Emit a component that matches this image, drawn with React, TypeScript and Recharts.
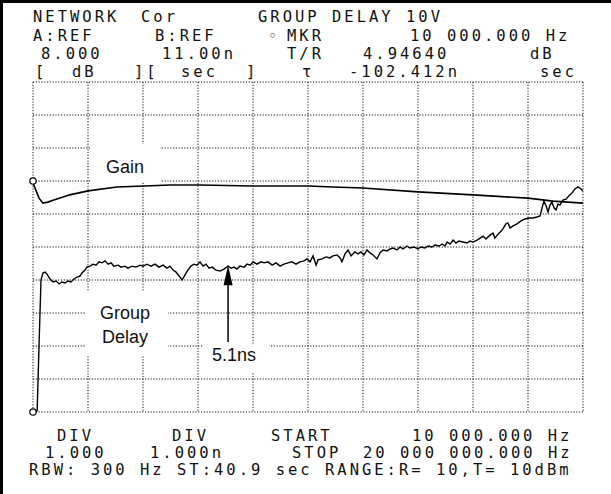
import { ComposedChart, Line, XAxis, YAxis, CartesianGrid, ReferenceDot, ReferenceLine } from 'recharts'

// sweep: 10 kHz .. 20 MHz, linear, 10 divisions
const START_MHZ = 0.01
const STOP_MHZ = 20
const freqTicks = [0.01, 2.009, 4.008, 6.007, 8.006, 10.005, 12.004, 14.003, 16.002, 18.001, 20]

// gain: 1 dB/div, ref 8.000 dB at 7th div; group delay: 1 ns/div, ref 11.00 ns at bottom
const GAIN_REF = 8
const DELAY_REF = 11
const gainTicks = [1, 2, 3, 4, 5, 6, 7, 8, 9, 10, 11]
const delayTicks = [11, 12, 13, 14, 15, 16, 17, 18, 19, 20, 21]

const gainMHz = [0.01, 0.23, 0.37, 0.55, 0.74, 1.35, 2.01, 3.06, 4.04, 4.99, 6.08, 8.01, 10.04, 10.91, 12.0, 14.0, 16.0, 18.0, 18.91, 20.0]
const gainDb = [7.94, 7.48, 7.33, 7.36, 7.42, 7.58, 7.7, 7.82, 7.85, 7.88, 7.88, 7.85, 7.85, 7.82, 7.79, 7.67, 7.58, 7.48, 7.39, 7.33]

const delayMHz = [
  0.01, 0.16, 0.23, 0.3, 0.37, 0.45, 0.52, 0.63, 0.74, 0.85, 0.96, 1.06, 1.17, 1.28, 1.39, 1.5, 1.61, 1.72, 1.79, 1.9,
  1.97, 2.08, 2.19, 2.3, 2.41, 2.52, 2.63, 2.74, 2.85, 2.95, 3.1, 3.21, 3.35, 3.46, 3.61, 3.75, 3.9, 4.01, 4.15, 4.3,
  4.44, 4.59, 4.74, 4.88, 4.99, 5.1, 5.21, 5.32, 5.43, 5.53, 5.64, 5.75, 5.86, 5.97, 6.08, 6.19, 6.3, 6.41, 6.52, 6.66,
  6.81, 6.95, 7.1, 7.21, 7.32, 7.42, 7.53, 7.68, 7.79, 7.9, 8.01, 8.15, 8.3, 8.41, 8.55, 8.7, 8.84, 8.99, 9.13, 9.28,
  9.42, 9.57, 9.71, 9.86, 9.97, 10.08, 10.19, 10.3, 10.37, 10.51, 10.66, 10.8, 10.91, 11.06, 11.17, 11.24, 11.35, 11.46, 11.57, 11.71,
  11.82, 11.93, 12.04, 12.15, 12.26, 12.37, 12.51, 12.62, 12.73, 12.88, 12.99, 13.09, 13.24, 13.35, 13.46, 13.6, 13.71, 13.86, 14.0, 14.11,
  14.26, 14.37, 14.51, 14.62, 14.77, 14.88, 14.98, 15.06, 15.17, 15.28, 15.38, 15.49, 15.64, 15.78, 15.89, 16.0, 16.15, 16.26, 16.37, 16.47,
  16.62, 16.73, 16.8, 16.91, 17.02, 17.09, 17.2, 17.27, 17.35, 17.46, 17.6, 17.75, 17.89, 18.04, 18.18, 18.33, 18.44, 18.51, 18.58, 18.66,
  18.73, 18.8, 18.87, 18.95, 19.02, 19.09, 19.16, 19.27, 19.38, 19.49, 19.6, 19.71, 19.82, 19.93, 20.0,
]
const delayNs = [
  11.0, 11.03, 13.03, 15.0, 15.21, 15.24, 15.18, 15.03, 14.94, 14.97, 14.88, 14.94, 14.91, 14.97, 14.94, 15.03, 15.09, 15.12, 15.21, 15.3,
  15.39, 15.42, 15.48, 15.45, 15.55, 15.52, 15.58, 15.48, 15.52, 15.42, 15.45, 15.39, 15.42, 15.36, 15.42, 15.39, 15.45, 15.42, 15.48, 15.42,
  15.48, 15.39, 15.45, 15.36, 15.42, 15.3, 15.24, 15.12, 15.0, 15.15, 15.3, 15.42, 15.48, 15.45, 15.55, 15.42, 15.48, 15.36, 15.39, 15.3,
  15.27, 15.33, 15.42, 15.36, 15.39, 15.33, 15.42, 15.39, 15.48, 15.45, 15.55, 15.48, 15.55, 15.52, 15.55, 15.45, 15.52, 15.42, 15.48, 15.52,
  15.55, 15.48, 15.55, 15.58, 15.64, 15.55, 15.73, 15.45, 15.61, 15.64, 15.7, 15.67, 15.73, 15.76, 15.67, 15.55, 15.79, 15.91, 15.73, 15.85,
  15.79, 15.85, 15.76, 15.91, 15.82, 15.76, 15.64, 15.82, 15.91, 15.88, 15.94, 15.97, 15.91, 16.0, 15.94, 16.03, 15.97, 16.0, 15.94, 16.0,
  15.97, 16.03, 16.0, 16.06, 16.03, 16.09, 16.03, 16.15, 16.09, 16.21, 16.12, 16.18, 16.15, 16.12, 16.18, 16.15, 16.21, 16.27, 16.33, 16.24,
  16.36, 16.42, 16.27, 16.39, 16.48, 16.55, 16.7, 16.73, 16.58, 16.64, 16.7, 16.79, 16.85, 16.88, 16.88, 16.91, 16.94, 17.18, 17.39, 17.24,
  17.06, 17.27, 17.36, 17.18, 17.12, 17.3, 17.27, 17.42, 17.45, 17.55, 17.64, 17.76, 17.82, 17.76, 17.7,
]

// marker arrow "5.1ns"
const ARROW_MHZ = 7.1
const ARROW_BASE_NS = 13.12
const ARROW_TIP_NS = 15.45

const gainData = gainMHz.map((f, i) => ({ f, v: gainDb[i] }))
const delayData = delayMHz.map((f, i) => ({ f, v: delayNs[i] }))

const headerLines = [
  { y: 22, items: [{ x: 33, t: 'NETWORK' }, { x: 141, t: 'Cor' }, { x: 258, t: 'GROUP DELAY 10V' }] },
  { y: 40.5, items: [{ x: 33, t: 'A:REF' }, { x: 155, t: 'B:REF' }, { x: 268, t: '◦' }, { x: 287, t: 'MKR' }, { x: 410, t: '10 000.000 Hz' }] },
  { y: 59, items: [{ x: 41, t: '8.000' }, { x: 162, t: '11.00n' }, { x: 287, t: 'T/R' }, { x: 363, t: '4.94640' }, { x: 530, t: 'dB' }] },
  { y: 77, items: [{ x: 35, t: '[' }, { x: 72, t: 'dB' }, { x: 134, t: '][' }, { x: 181, t: 'sec' }, { x: 246, t: ']' }, { x: 302, t: 'τ' }, { x: 349, t: '-102.412n' }, { x: 540, t: 'sec' }] },
]
const footerLines = [
  { y: 441, items: [{ x: 57, t: 'DIV' }, { x: 172, t: 'DIV' }, { x: 271, t: 'START' }, { x: 412, t: '10 000.000 Hz' }] },
  { y: 458, items: [{ x: 45, t: '1.000' }, { x: 150, t: '1.000n' }, { x: 292, t: 'STOP' }, { x: 363, t: '20 000 000.000 Hz' }] },
  { y: 475, items: [{ x: 29, t: 'RBW: 300 Hz ST:40.9 sec RANGE:R= 10,T= 10dBm' }] },
]

const monoStyle = {
  fontFamily: '"DejaVu Sans Mono", monospace',
  fontSize: 15.5,
  letterSpacing: 3,
  whiteSpace: 'pre' as const,
}
const labelFont = '"Liberation Sans", Arial, sans-serif'

const Arrow = (p: any) => {
  const tipY = Math.min(p.y1, p.y2)
  const baseY = Math.max(p.y1, p.y2)
  const x = p.x1
  return (
    <g>
      <line x1={x} y1={baseY} x2={x} y2={tipY + 10} stroke="#000" strokeWidth={1.5} />
      <polygon points={`${x},${tipY} ${x - 4.5},${tipY + 20} ${x + 4.5},${tipY + 20}`} fill="#000" />
    </g>
  )
}

export default function App() {
  return (
    <div style={{ position: 'absolute', left: 0, top: 0, width: 611, height: 494, background: '#fff' }}>
      <ComposedChart width={611} height={494} margin={{ top: 82, right: 28, bottom: 82, left: 33 }}>
        <CartesianGrid yAxisId="gain" stroke="#111" strokeWidth={1} strokeDasharray="1.2 1.6" />
        <XAxis type="number" dataKey="f" domain={[START_MHZ, STOP_MHZ]} ticks={freqTicks} hide allowDataOverflow />
        <YAxis yAxisId="gain" type="number" domain={[1, 11]} ticks={gainTicks} hide allowDataOverflow />
        <YAxis yAxisId="gd" type="number" domain={[11, 21]} ticks={delayTicks} hide allowDataOverflow />
        <Line yAxisId="gain" data={gainData} dataKey="v" type="linear" stroke="#000" strokeWidth={1.6} dot={false} isAnimationActive={false} />
        <Line yAxisId="gd" data={delayData} dataKey="v" type="linear" stroke="#000" strokeWidth={1.4} dot={false} isAnimationActive={false} />
        <ReferenceDot yAxisId="gain" x={START_MHZ} y={GAIN_REF} r={3.2} fill="#fff" stroke="#000" strokeWidth={1.2} ifOverflow="visible" />
        <ReferenceDot yAxisId="gd" x={START_MHZ} y={DELAY_REF} r={3.2} fill="#fff" stroke="#000" strokeWidth={1.2} ifOverflow="visible" />
        <ReferenceLine
          yAxisId="gd"
          segment={[{ x: ARROW_MHZ, y: ARROW_BASE_NS }, { x: ARROW_MHZ, y: ARROW_TIP_NS }]}
          shape={Arrow}
        />
      </ComposedChart>
      <svg width={611} height={494} style={{ position: 'absolute', left: 0, top: 0, pointerEvents: 'none' }}>
        <line x1={0} y1={1.5} x2={611} y2={1.5} stroke="#000" strokeWidth={3} />
        <line x1={1.5} y1={0} x2={1.5} y2={494} stroke="#000" strokeWidth={3} />
        {[...headerLines, ...footerLines].map((ln, i) =>
          ln.items.map((it, j) => (
            <text key={`${i}-${j}`} x={it.x} y={ln.y} fill="#111" style={monoStyle}>{it.t}</text>
          ))
        )}
        <rect x={90} y={144} width={70} height={38} fill="#fff" />
        <text x={106} y={173} fontFamily={labelFont} fontSize={18} fill="#111">Gain</text>
        <rect x={85} y={291} width={83} height={65} fill="#fff" />
        <text x={100} y={319} fontFamily={labelFont} fontSize={18} fill="#111">Group</text>
        <text x={102} y={343} fontFamily={labelFont} fontSize={18} fill="#111">Delay</text>
        <rect x={203} y={344} width={66} height={29} fill="#fff" />
        <text x={212} y={361} fontFamily={labelFont} fontSize={18} fill="#111">5.1ns</text>
      </svg>
    </div>
  )
}
